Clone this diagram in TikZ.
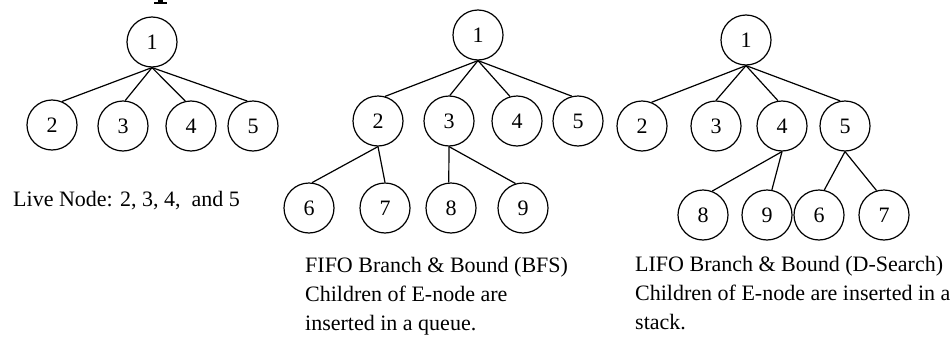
\documentclass[tikz,border=0pt]{standalone}
\usepackage{fontspec}
\setmainfont{Liberation Serif}
\begin{document}
\begin{tikzpicture}[x=1pt,y=-1pt,
  tn/.style={draw, circle, minimum size=50pt, inner sep=0pt, line width=1.2pt,
             font=\fontsize{22}{22}\selectfont},
  br/.style={line width=1.2pt},
  captext/.style={anchor=base west, align=left, inner sep=0pt,
                  font=\fontsize{22}{29}\selectfont}]
\useasboundingbox (0,0) rectangle (951,343);
\clip (0,0) rectangle (951,343);

% foot of a heading letter reaching in from above the top edge
\fill (158,0) rectangle (163,2.2);
\fill (153.5,2.2) rectangle (167,4);

% ---- tree with live nodes only ----
\node[tn] (a1) at (152,42) {1};
\node[tn] (a2) at (52,125) {2};
\node[tn] (a3) at (123,126) {3};
\node[tn] (a4) at (191,126) {4};
\node[tn] (a5) at (253,126) {5};
\draw[br] (a1.south) -- (a2.67);
\draw[br] (a1.south) -- (a3.85);
\draw[br] (a1.south) -- (a4.103);
\draw[br] (a1.south) -- (a5.103);
\node[captext] (la) at (13,206) {Live Node: 2, 3, 4,\ \ and 5};

% ---- FIFO tree ----
\node[tn] (b1) at (478,35) {1};
\node[tn] (b2) at (378,121) {2};
\node[tn] (b3) at (449,121) {3};
\node[tn] (b4) at (517,121) {4};
\node[tn] (b5) at (578,121) {5};
\node[tn] (b6) at (309,208) {6};
\node[tn] (b7) at (385,208) {7};
\node[tn] (b8) at (451,208) {8};
\node[tn] (b9) at (523,208) {9};
\draw[br] (b1.south) -- (b2.74);
\draw[br] (b1.south) -- (b3.88);
\draw[br] (b1.south) -- (b4.106);
\draw[br] (b1.south) -- (b5.104);
\draw[br] (b2.south) -- (b6.83);
\draw[br] (b2.south) -- (b7.90);
\draw[br] (b3.south) -- (b8.95);
\draw[br] (b3.south) -- (b9.107);
% base anchor of a multi-line node sits on its last line
\node[captext] (lb) at (305,330) {FIFO Branch \& Bound (BFS)\\Children of E-node are\\inserted in a queue.};

% ---- LIFO tree ----
\node[tn] (c1) at (746,40) {1};
\node[tn] (c2) at (642,126) {2};
\node[tn] (c3) at (716,126) {3};
\node[tn] (c4) at (782,126) {4};
\node[tn] (c5) at (845,126) {5};
\node[tn] (c8) at (703,215) {8};
\node[tn] (c9) at (767,215) {9};
\node[tn] (c6) at (819,215) {6};
\node[tn] (c7) at (884,215) {7};
\draw[br] (c1.south) -- (c2.68);
\draw[br] (c1.south) -- (c3.90);
\draw[br] (c1.south) -- (c4.99);
\draw[br] (c1.south) -- (c5.101);
\draw[br] (c4.south) -- (c8.69);
\draw[br] (c4.south) -- (c9.79);
\draw[br] (c5.south) -- (c6.78);
\draw[br] (c5.south) -- (c7.107);
\node[captext] (lc) at (635,329) {LIFO Branch \& Bound (D-Search)\\Children of E-node are inserted in a\\stack.};
\end{tikzpicture}
\end{document}
